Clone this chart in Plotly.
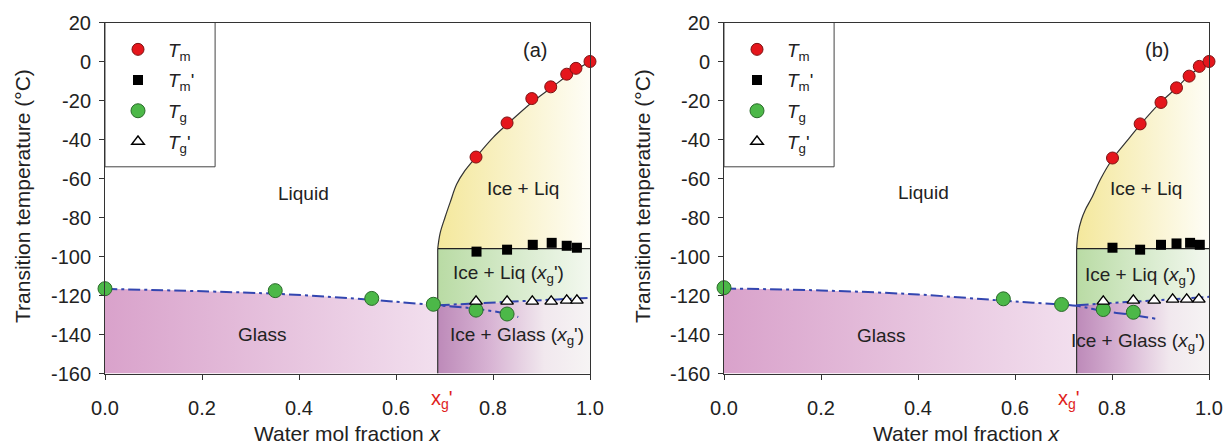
import plotly.graph_objects as go

W, H = 1226, 446
FONT = "Liberation Sans, Arial, sans-serif"

# ---------------- data: panel (a) ----------------
tm_a_x = [0.765, 0.829, 0.880, 0.919, 0.952, 0.971, 1.0]
tm_a_y = [-49.0, -31.5, -19.0, -13.0, -6.5, -3.5, 0.0]
tmp_a_x = [0.766, 0.829, 0.882, 0.921, 0.952, 0.973]
tmp_a_y = [-97.5, -96.5, -94.0, -93.0, -94.5, -95.5]
tg_a_x = [0.0, 0.351, 0.550, 0.677, 0.765, 0.829]
tg_a_y = [-116.5, -117.5, -121.5, -124.5, -127.5, -129.5]
tgp_a_x = [0.765, 0.829, 0.881, 0.920, 0.952, 0.973]
tgp_a_y = [-123.0, -123.0, -123.0, -123.0, -122.5, -122.5]
xg_a = 0.686            # x_g'
tmp_level_a = -96.0     # Tm' line
tgp_line_a_x = [0.686, 1.0]
tgp_line_a_y = [-125.0, -121.2]
gt_a_x = [0.0, 0.351, 0.550, 0.608, 0.686, 0.765, 0.829, 0.852]
gt_a_y = [-116.6, -119.1, -122.2, -123.4, -125.0, -126.8, -129.4, -131.0]
liq_a_x = [0.686, 0.691, 0.701, 0.712, 0.725, 0.742, 0.765, 0.800, 0.830, 0.880, 0.920, 0.960, 1.0]
liq_a_y = [-96.0, -88.0, -80.0, -72.0, -63.0, -56.0, -49.0, -39.0, -32.0, -21.0, -13.5, -6.0, 0.0]

# ---------------- data: panel (b) ----------------
tm_b_x = [0.801, 0.858, 0.901, 0.933, 0.959, 0.980, 1.0]
tm_b_y = [-49.5, -32.0, -21.0, -13.5, -7.5, -2.5, 0.0]
tmp_b_x = [0.801, 0.858, 0.901, 0.933, 0.961, 0.981]
tmp_b_y = [-95.5, -96.5, -94.0, -93.3, -93.0, -94.0]
tg_b_x = [0.0, 0.576, 0.696, 0.782, 0.844]
tg_b_y = [-116.0, -121.7, -124.6, -127.2, -128.6]
tgp_b_x = [0.782, 0.844, 0.887, 0.925, 0.954, 0.979]
tgp_b_y = [-123.0, -122.5, -122.5, -122.0, -122.0, -122.0]
xg_b = 0.727
tmp_level_b = -96.0
tgp_line_b_x = [0.727, 1.0]
tgp_line_b_y = [-125.0, -120.7]
gt_b_x = [0.0, 0.2, 0.4, 0.573, 0.637, 0.727, 0.782, 0.844, 0.892]
gt_b_y = [-116.4, -117.4, -119.5, -122.6, -123.7, -125.3, -128.0, -130.0, -132.0]
liq_b_x = [0.727, 0.730, 0.737, 0.745, 0.758, 0.777, 0.801, 0.830, 0.858, 0.900, 0.933, 0.960, 1.0]
liq_b_y = [-96.0, -88.0, -81.0, -76.0, -70.0, -60.0, -50.0, -41.0, -32.5, -21.0, -13.5, -7.0, 0.0]

X_MIN, X_MAX = 0.0, 1.0
Y_MIN, Y_MAX = -160.0, 20.0
x_ticks = [0.0, 0.2, 0.4, 0.6, 0.8, 1.0]
x_tick_labels = ["0.0", "0.2", "0.4", "0.6", "0.8", "1.0"]
y_ticks = [20, 0, -20, -40, -60, -80, -100, -120, -140, -160]
y_tick_labels = ["20", "0", "-20", "-40", "-60", "-80", "-100", "-120", "-140", "-160"]

legend_names = ["<i>T</i><sub>m</sub>", "<i>T</i><sub>m</sub>'",
                "<i>T</i><sub>g</sub>", "<i>T</i><sub>g</sub>'"]
region_texts = ["Liquid", "Ice + Liq", "Ice + Liq (<i>x</i><sub>g</sub>')",
                "Ice + Glass (<i>x</i><sub>g</sub>')", "Glass"]

panels = [
    dict(tag="(a)", xa="x", ya="y", leg="legend",
         tm=(tm_a_x, tm_a_y), tmp=(tmp_a_x, tmp_a_y), tg=(tg_a_x, tg_a_y),
         tgp=(tgp_a_x, tgp_a_y), xg=xg_a, lvl=tmp_level_a,
         tgl=(tgp_line_a_x, tgp_line_a_y), gt=(gt_a_x, gt_a_y),
         liq=(liq_a_x, liq_a_y),
         lab_pos=[(0.41, -67.5), (0.862, -65.0), (0.832, -109.0), (0.849, -141.0), (0.325, -140.0)],
         tag_pos=(0.887, 6.0), xg_lab=0.694),
    dict(tag="(b)", xa="x2", ya="y2", leg="legend2",
         tm=(tm_b_x, tm_b_y), tmp=(tmp_b_x, tmp_b_y), tg=(tg_b_x, tg_b_y),
         tgp=(tgp_b_x, tgp_b_y), xg=xg_b, lvl=tmp_level_b,
         tgl=(tgp_line_b_x, tgp_line_b_y), gt=(gt_b_x, gt_b_y),
         liq=(liq_b_x, liq_b_y),
         lab_pos=[(0.412, -67.0), (0.871, -65.0), (0.858, -110.0), (0.854, -144.0), (0.325, -140.5)],
         tag_pos=(0.892, 6.0), xg_lab=0.712),
]

fig = go.Figure()
BLUE = "#3346b0"
annotations = []
shapes = []

for p in panels:
    xa, ya = p["xa"], p["ya"]
    xg, lvl = p["xg"], p["lvl"]
    tglx, tgly = p["tgl"]
    gtx, gty = p["gt"]
    lqx, lqy = p["liq"]

    # --- Glass region (below GT curve, left of xg')
    gx = [x for x in gtx if x <= xg]
    gy = [y for x, y in zip(gtx, gty) if x <= xg]
    fig.add_trace(go.Scatter(x=[X_MIN, xg], y=[Y_MIN, Y_MIN], mode="lines",
                             line=dict(width=0), showlegend=False, hoverinfo="skip",
                             xaxis=xa, yaxis=ya))
    fig.add_trace(go.Scatter(x=gx, y=gy, mode="lines", line=dict(width=0, shape="spline"),
                             fill="tonexty",
                             fillgradient=dict(type="horizontal", start=X_MIN, stop=xg,
                                               colorscale=[[0, "#d9a2cb"], [1, "#f2dfee"]]),
                             showlegend=False, hoverinfo="skip", xaxis=xa, yaxis=ya))
    # --- Ice + Glass region
    fig.add_trace(go.Scatter(x=[xg, tglx[0], tglx[-1], X_MAX, xg],
                             y=[Y_MIN, tgly[0], tgly[-1], Y_MIN, Y_MIN],
                             mode="lines", line=dict(width=0), fill="toself",
                             fillgradient=dict(type="horizontal", start=xg, stop=X_MAX,
                                               colorscale=[[0, "#bd8ab9"], [0.35, "#d8b4d4"],
                                                           [0.7, "#f1e8ee"], [1, "#f6f4f4"]]),
                             showlegend=False, hoverinfo="skip", xaxis=xa, yaxis=ya))
    # --- Ice + Liq (xg') region (green)
    fig.add_trace(go.Scatter(x=[tglx[0], tglx[-1], X_MAX, xg, tglx[0]],
                             y=[tgly[0], tgly[-1], lvl, lvl, tgly[0]],
                             mode="lines", line=dict(width=0), fill="toself",
                             fillgradient=dict(type="horizontal", start=xg, stop=X_MAX,
                                               colorscale=[[0, "#b9dba4"], [0.5, "#d6eacb"],
                                                           [1, "#f3f8ef"]]),
                             showlegend=False, hoverinfo="skip", xaxis=xa, yaxis=ya))
    # --- Ice + Liq region (yellow)
    fig.add_trace(go.Scatter(x=[X_MAX, X_MAX], y=[lvl, 0.0], mode="lines",
                             line=dict(width=0), showlegend=False, hoverinfo="skip",
                             xaxis=xa, yaxis=ya))
    fig.add_trace(go.Scatter(x=lqx, y=lqy, mode="lines", line=dict(width=0, shape="spline"),
                             fill="tonextx",
                             fillgradient=dict(type="horizontal", start=xg, stop=X_MAX,
                                               colorscale=[[0, "#f4e89c"], [0.5, "#f9f2c9"],
                                                           [1, "#fefdf6"]]),
                             showlegend=False, hoverinfo="skip", xaxis=xa, yaxis=ya))

    # --- black boundary lines
    fig.add_trace(go.Scatter(x=lqx, y=lqy, mode="lines",
                             line=dict(color="#333333", width=1.2, shape="spline"),
                             showlegend=False, hoverinfo="skip", xaxis=xa, yaxis=ya))
    fig.add_trace(go.Scatter(x=[xg, X_MAX], y=[lvl, lvl], mode="lines",
                             line=dict(color="#222222", width=1.2),
                             showlegend=False, hoverinfo="skip", xaxis=xa, yaxis=ya))
    fig.add_trace(go.Scatter(x=[xg, xg], y=[Y_MIN, lvl], mode="lines",
                             line=dict(color="#333333", width=1.2),
                             showlegend=False, hoverinfo="skip", xaxis=xa, yaxis=ya))

    # --- blue dash-dot lines (GT curve and Tg' line)
    fig.add_trace(go.Scatter(x=gtx, y=gty, mode="lines",
                             line=dict(color=BLUE, width=2, dash="12px,4px,3px,4px", shape="spline"),
                             showlegend=False, hoverinfo="skip", xaxis=xa, yaxis=ya))
    fig.add_trace(go.Scatter(x=tglx, y=tgly, mode="lines",
                             line=dict(color=BLUE, width=2, dash="12px,4px,3px,4px"),
                             showlegend=False, hoverinfo="skip", xaxis=xa, yaxis=ya))

    # --- markers
    specs = [
        (p["tm"], dict(size=12, color="#e5161c", line=dict(color="#7d1212", width=1))),
        (p["tmp"], dict(size=10, symbol="square", color="#000000", line=dict(width=0))),
        (p["tg"], dict(size=14, color="#4cb848", line=dict(color="#2a6a2a", width=1))),
        (p["tgp"], dict(size=11, symbol="triangle-up", color="#ffffff",
                        line=dict(color="#000000", width=1.4))),
    ]
    for i, ((xs, ys), mk) in enumerate(specs):
        fig.add_trace(go.Scatter(x=xs, y=ys, mode="markers", marker=mk, name=legend_names[i],
                                 legend=p["leg"], legendgroup=p["tag"] + str(i),
                                 cliponaxis=False, xaxis=xa, yaxis=ya))

    # --- legend box
    shapes.append(dict(type="rect", xref=xa, yref=ya, x0=X_MIN, x1=0.227, y0=-54, y1=Y_MAX,
                       line=dict(color="#444444", width=1), fillcolor="white", layer="below"))

    # --- region labels
    for t, (lx, ly) in zip(region_texts, p["lab_pos"]):
        annotations.append(dict(x=lx, y=ly, xref=xa, yref=ya, text=t, showarrow=False,
                                xanchor="center", yanchor="middle",
                                font=dict(family=FONT, size=19, color="#222222")))
    annotations.append(dict(x=p["tag_pos"][0], y=p["tag_pos"][1], xref=xa, yref=ya,
                            text=p["tag"], showarrow=False, xanchor="center", yanchor="middle",
                            font=dict(family=FONT, size=20, color="#222222")))
    # --- red xg' label under the axis
    annotations.append(dict(x=p["xg_lab"], y=1 - 399 / H, xref=xa, yref="paper",
                            text="x<sub>g</sub>'", showarrow=False,
                            xanchor="center", yanchor="middle",
                            font=dict(family=FONT, size=20, color="#e0221c")))

# axis titles
for cx, ytx in [((105 + 590) / 2, 23), ((724 + 1209) / 2, 643)]:
    annotations.append(dict(x=cx / W, y=0, xref="paper", yref="paper",
                            text="Water mol fraction <i>x</i>", showarrow=False,
                            xanchor="center", yanchor="bottom", borderpad=0,
                            font=dict(family=FONT, size=21, color="#222222")))
    annotations.append(dict(x=ytx / W, y=1 - 196 / H, xref="paper", yref="paper",
                            text="Transition temperature (°C)", textangle=-90, showarrow=False,
                            xanchor="center", yanchor="middle",
                            font=dict(family=FONT, size=21, color="#222222")))

ydom = [1 - 373.5 / H, 1 - 22.5 / H]
axis_common = dict(showline=True, linecolor="#333333", linewidth=1, mirror=True,
                   ticks="outside", ticklen=5, tickcolor="#333333", showgrid=False,
                   zeroline=False, automargin=False,
                   tickfont=dict(family=FONT, size=20, color="#222222"))

fig.update_layout(
    width=W, height=H, margin=dict(l=0, r=0, t=0, b=0, pad=0, autoexpand=False),
    paper_bgcolor="white", plot_bgcolor="white",
    font=dict(family=FONT),
    xaxis=dict(domain=[105 / W, 590 / W], range=[X_MIN, X_MAX], tickvals=x_ticks,
               ticktext=x_tick_labels, ticklabelstandoff=11, anchor="y", **axis_common),
    yaxis=dict(domain=ydom, range=[Y_MIN, Y_MAX], tickvals=y_ticks, ticktext=y_tick_labels,
               anchor="x", ticklabelstandoff=4, **axis_common),
    xaxis2=dict(domain=[724 / W, 1209 / W], range=[X_MIN, X_MAX], tickvals=x_ticks,
                ticktext=x_tick_labels, ticklabelstandoff=11, anchor="y2", **axis_common),
    yaxis2=dict(domain=ydom, range=[Y_MIN, Y_MAX], tickvals=y_ticks, ticktext=y_tick_labels,
                anchor="x2", ticklabelstandoff=4, **axis_common),
    legend=dict(x=108 / W, y=1 - 30.5 / H, xanchor="left", yanchor="top",
                bgcolor="rgba(0,0,0,0)", borderwidth=0, tracegroupgap=3, itemwidth=50,
                font=dict(family=FONT, size=19, color="#222222")),
    legend2=dict(x=727 / W, y=1 - 30.5 / H, xanchor="left", yanchor="top",
                 bgcolor="rgba(0,0,0,0)", borderwidth=0, tracegroupgap=3, itemwidth=50,
                 font=dict(family=FONT, size=19, color="#222222")),
    annotations=annotations,
    shapes=shapes,
    showlegend=True,
)

fig.write_html("out.html", config={"displayModeBar": False},
               post_script="document.body.style.margin='0';")
